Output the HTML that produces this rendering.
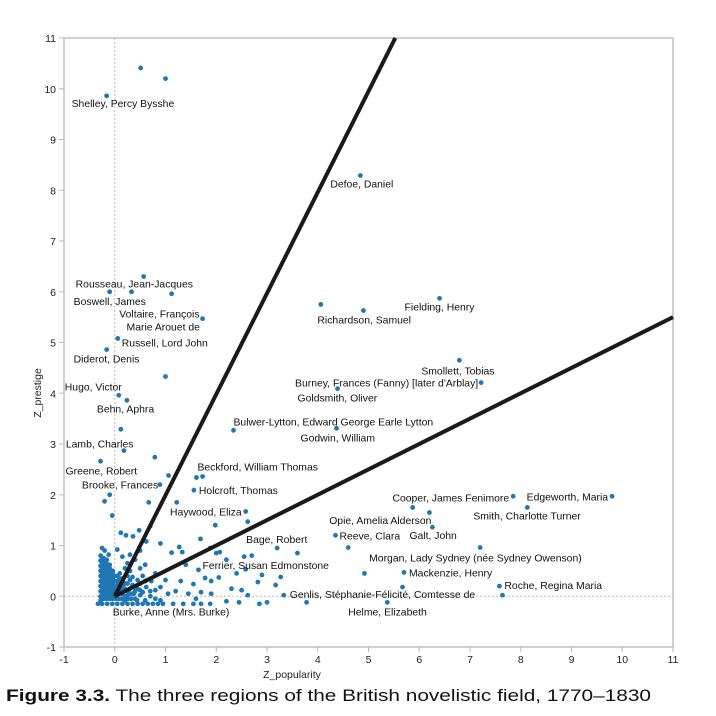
<!DOCTYPE html>
<html><head><meta charset="utf-8"><style>
body{margin:0;background:#fff;width:716px;height:716px;overflow:hidden}
svg{display:block;font-family:"Liberation Sans",sans-serif}
</style></head><body>
<svg id="chart" width="716" height="716"></svg>
<script>
const xTicks=[-1,0,1,2,3,4,5,6,7,8,9,10,11];
const yTicks=[-1,0,1,2,3,4,5,6,7,8,9,10,11];
const boundarySlopes=[1.99,0.5];
const novelists=[
[-0.16,9.86],[0.51,10.41],[1.0,10.2],[4.84,8.29],[0.57,6.3],[-0.1,6.0],[0.33,6.0],[1.12,5.96],[1.73,5.47],[0.06,5.08],
[-0.16,4.86],[1.0,4.33],[0.08,3.96],[0.24,3.86],[0.12,3.29],[0.18,2.87],[0.79,2.74],[-0.28,2.66],[1.61,2.34],[1.73,2.36],
[1.06,2.38],[0.89,2.2],[-0.1,2.0],[-0.2,1.87],[0.67,1.85],[1.22,1.85],[2.34,3.27],[1.56,2.09],[2.58,1.67],[6.4,5.87],
[4.06,5.75],[4.9,5.63],[6.79,4.65],[7.22,4.21],[4.39,4.09],[4.37,3.31],[7.85,1.97],[5.87,1.75],[6.2,1.65],[6.26,1.36],
[9.8,1.97],[8.13,1.75],[4.35,1.2],[4.6,0.96],[7.2,0.96],[5.7,0.47],[4.92,0.45],[7.58,0.2],[7.64,0.02],[5.67,0.18],
[3.33,0.02],[5.37,-0.12],[3.78,-0.12],[3.2,0.95],[3.6,0.85],[0.0,0.0],
[2.62,1.47],[1.98,1.4],[1.69,1.13],[1.27,0.97],[1.33,0.87],[1.12,0.86],[0.9,1.04],[0.62,1.08],[0.22,1.2],[0.12,1.25],[0.48,1.3],[0.36,1.18],[0.7,1.38],[-0.05,1.59],
[1.88,0.95],[2.0,0.85],[2.07,0.87],[2.2,0.72],[2.55,0.78],[2.7,0.8],[2.4,0.45],[2.58,0.53],[2.9,0.42],[3.27,0.38],[3.17,0.22],[2.82,0.28],[2.5,0.12],[2.62,0.02],[2.3,0.15],
[1.78,0.36],[1.65,0.52],[1.9,0.3],[2.05,0.37],[1.4,0.62],[1.55,0.24],[1.7,0.08],[1.9,0.05],[1.88,-0.15],[2.45,-0.12],[2.85,-0.15],[3.0,-0.12],[2.2,-0.1],[1.3,0.3],[1.2,0.1],
[1.0,0.32],[0.9,0.18],[0.8,0.45],[0.72,0.3],[1.05,0.05],[0.6,0.62],[0.5,0.55],[0.4,0.72],[0.3,0.5],[1.45,0.05],[1.6,-0.05],[1.35,-0.15],[1.15,-0.15],[1.55,-0.15],[1.7,-0.15],
[0.95,-0.15],[0.85,-0.15],[0.75,-0.15],[0.65,-0.15],[0.55,-0.15],[0.45,-0.15],[0.35,-0.15],[0.25,-0.15],[0.15,-0.15],[0.05,-0.15],[-0.05,-0.15],[-0.15,-0.15],[-0.25,-0.15],[-0.33,-0.15],
[0.9,-0.08],[0.8,-0.05],[0.7,0.0],[0.6,-0.08],[0.5,0.02],[0.4,-0.05],[0.3,0.05],[0.2,-0.08],[0.1,0.08],[0.5,0.12],[0.4,0.2],[0.3,0.15],[0.2,0.25],[0.62,0.18],[0.7,0.1],[0.8,0.12],
[0.45,0.32],[0.35,0.38],[0.25,0.4],[0.15,0.35],[0.55,0.4],[0.2,0.55],[0.1,0.45],[0.05,0.3],[0.12,0.15],[0.02,0.2],
[-0.28,0.0],[-0.28,0.1],[-0.28,0.2],[-0.28,0.3],[-0.28,0.4],[-0.28,0.5],[-0.28,0.6],[-0.28,0.7],[-0.28,0.8],[-0.28,-0.08],
[-0.22,-0.05],[-0.22,0.05],[-0.22,0.15],[-0.22,0.25],[-0.22,0.35],[-0.22,0.45],[-0.22,0.55],[-0.22,0.65],[-0.22,0.75],
[-0.16,-0.05],[-0.16,0.05],[-0.16,0.15],[-0.16,0.25],[-0.16,0.35],[-0.16,0.45],[-0.16,0.55],[-0.16,0.65],[-0.16,0.72],
[-0.1,-0.05],[-0.1,0.05],[-0.1,0.15],[-0.1,0.25],[-0.1,0.35],[-0.1,0.45],[-0.1,0.55],[-0.1,0.62],
[-0.04,-0.05],[-0.04,0.05],[-0.04,0.15],[-0.04,0.25],[-0.04,0.35],[-0.04,0.45],[-0.04,0.5],
[0.02,-0.05],[0.02,0.08],[0.08,-0.05],[0.08,0.05],[0.14,-0.05],[0.14,0.05],[0.2,0.0],[0.26,-0.05],[0.26,0.1],[0.32,-0.05],[0.38,0.05],[0.44,-0.08],
[-0.25,0.95],[-0.2,0.9],[-0.12,0.82],[0.05,0.92],[0.15,0.78],[0.3,0.82],[0.5,0.9],[0.25,0.65],
[-0.25,0.02],[-0.25,0.12],[-0.25,0.22],[-0.25,0.32],[-0.25,0.42],[-0.25,0.52],[-0.25,0.62],[-0.25,0.72],
[-0.19,0.0],[-0.19,0.1],[-0.19,0.2],[-0.19,0.3],[-0.19,0.4],[-0.19,0.5],[-0.19,0.6],[-0.19,0.7],
[-0.13,0.0],[-0.13,0.1],[-0.13,0.2],[-0.13,0.3],[-0.13,0.4],[-0.13,0.5],[-0.13,0.6],
[-0.07,0.0],[-0.07,0.1],[-0.07,0.2],[-0.07,0.3],[-0.07,0.4],[-0.07,0.5],
[-0.01,0.1],[-0.01,0.2],[-0.01,0.3],[-0.01,0.4],[0.05,0.12],[0.05,0.22],[0.05,0.4],[0.1,0.25],[0.1,0.35],[0.15,0.2],[0.2,0.15],[0.25,0.25],[0.3,0.32],[0.35,0.22],[0.4,0.1],[0.45,0.15],[0.5,0.25],[0.55,0.08],[0.6,0.3],[0.35,0.05],[0.25,0.02],[0.15,0.1]
];
const labelIdx=[0,3,4,5,8,8,9,10,12,13,15,17,21,18,27,28,26,35,34,33,32,29,31,36,40,41,39,42,39,44,45,47,50,51,55,53,54];
const labelText=["Shelley, Percy Bysshe","Defoe, Daniel","Rousseau, Jean-Jacques","Boswell, James","Voltaire, François","Marie Arouet de","Russell, Lord John","Diderot, Denis","Hugo, Victor","Behn, Aphra","Lamb, Charles","Greene, Robert","Brooke, Frances","Beckford, William Thomas","Holcroft, Thomas","Haywood, Eliza","Bulwer-Lytton, Edward George Earle Lytton","Godwin, William","Goldsmith, Oliver","Burney, Frances (Fanny) [later d'Arblay]","Smollett, Tobias","Fielding, Henry","Richardson, Samuel","Cooper, James Fenimore","Edgeworth, Maria","Smith, Charlotte Turner","Opie, Amelia Alderson","Reeve, Clara","Galt, John","Morgan, Lady Sydney (née Sydney Owenson)","Mackenzie, Henry","Roche, Regina Maria","Genlis, Stéphanie-Félicité, Comtesse de","Helme, Elizabeth","Burke, Anne (Mrs. Burke)","Bage, Robert","Ferrier, Susan Edmonstone"];
const labelDx=[-35,-30,-68,-36,-3,-76,4,-33,-54,-30,-58,-35,-78,1,5,-4,0,-36,-40,-3,-38,-35,-46,-4,-4,-54,-1,4,-23,-111,5,5,6,-39,-2,-31,-95];
const labelDy=[7,8,7,9,-5,8,4,9,-9,8,-7,9,0,-11,0,0,-9,9,9,0,10,8,9,1,0,8,-7,0,8,10,0,-1,-1,9,15,-9,12];
const labelEnd=[0,0,0,0,1,0,0,0,0,0,0,0,0,0,0,1,0,0,0,1,0,0,0,1,1,0,1,0,0,0,0,0,0,0,0,0,0];

const NS="http://www.w3.org/2000/svg",svg=document.getElementById('chart');
const L=64,R=673,T=38,B=647;
const sx=v=>L+(v+1)/12*(R-L), sy=v=>B-(v+1)/12*(B-T);
function mk(tag,a,p){const e=document.createElementNS(NS,tag);for(const k in a)e.setAttribute(k,a[k]);(p||svg).appendChild(e);return e;}
let e;
e=mk('rect',{x:L,y:T,width:R-L,height:B-T,fill:'none',stroke:'#d0d0d0','stroke-width':2});


e=mk('line',{x1:sx(0),x2:sx(0),y1:T,y2:B,stroke:'#bbb','stroke-dasharray':'2,2'});


e=mk('line',{x1:L,x2:R,y1:sy(0),y2:sy(0),stroke:'#bbb','stroke-dasharray':'2,2'});


xTicks.forEach(t=>{
 e=mk('line',{x1:sx(t),x2:sx(t),y1:B,y2:B+5,stroke:'#bbb'});
 
 
 e=mk('text',{x:sx(t),y:B+16,'text-anchor':'middle','font-size':10.5,fill:'#222'});e.textContent=t;
 
 
});
yTicks.forEach(t=>{
 e=mk('line',{x1:L-5,x2:L,y1:sy(t),y2:sy(t),stroke:'#bbb'});
 
 
 e=mk('text',{x:L-8,y:sy(t)+4,'text-anchor':'end','font-size':10.5,fill:'#222'});e.textContent=t;
 
 
});
e=mk('text',{x:292,y:678,'text-anchor':'middle','font-size':10.5,fill:'#222'});e.textContent='Z_popularity';


e=mk('text',{x:0,y:0,transform:'translate(41,393) rotate(-90)','text-anchor':'middle','font-size':10.5,fill:'#222'});e.textContent='Z_prestige';


const g=mk('g',{fill:'#1f77b4'});


novelists.forEach(p=>{
 e=mk('circle',{cx:sx(p[0]),cy:sy(p[1]),r:2.4},g);
 
 
});
boundarySlopes.forEach((s,i)=>{
 const xe=Math.min(11,11/s), ye=xe*s;
 e=mk('line',{x1:sx(0),y1:sy(0),x2:sx(xe),y2:sy(ye),stroke:'#1a1a1a','stroke-width':4});
 
 
});
labelText.forEach((t,i)=>{
 const p=novelists[labelIdx[i]];
 e=mk('text',{x:sx(p[0])+labelDx[i],y:sy(p[1])+labelDy[i]+4,'font-size':10.4,fill:'#111','text-anchor':labelEnd[i]?'end':'start'});
 e.textContent=t;
 
 
});
e=mk('text',{x:6,y:701,'font-size':17,fill:'#111',textLength:645,lengthAdjust:'spacingAndGlyphs'});


const b=mk('tspan',{'font-weight':'bold'},e);b.textContent='Figure 3.3.';
const n=mk('tspan',{},e);n.textContent=' The three regions of the British novelistic field, 1770–1830';
</script>
</body></html>
